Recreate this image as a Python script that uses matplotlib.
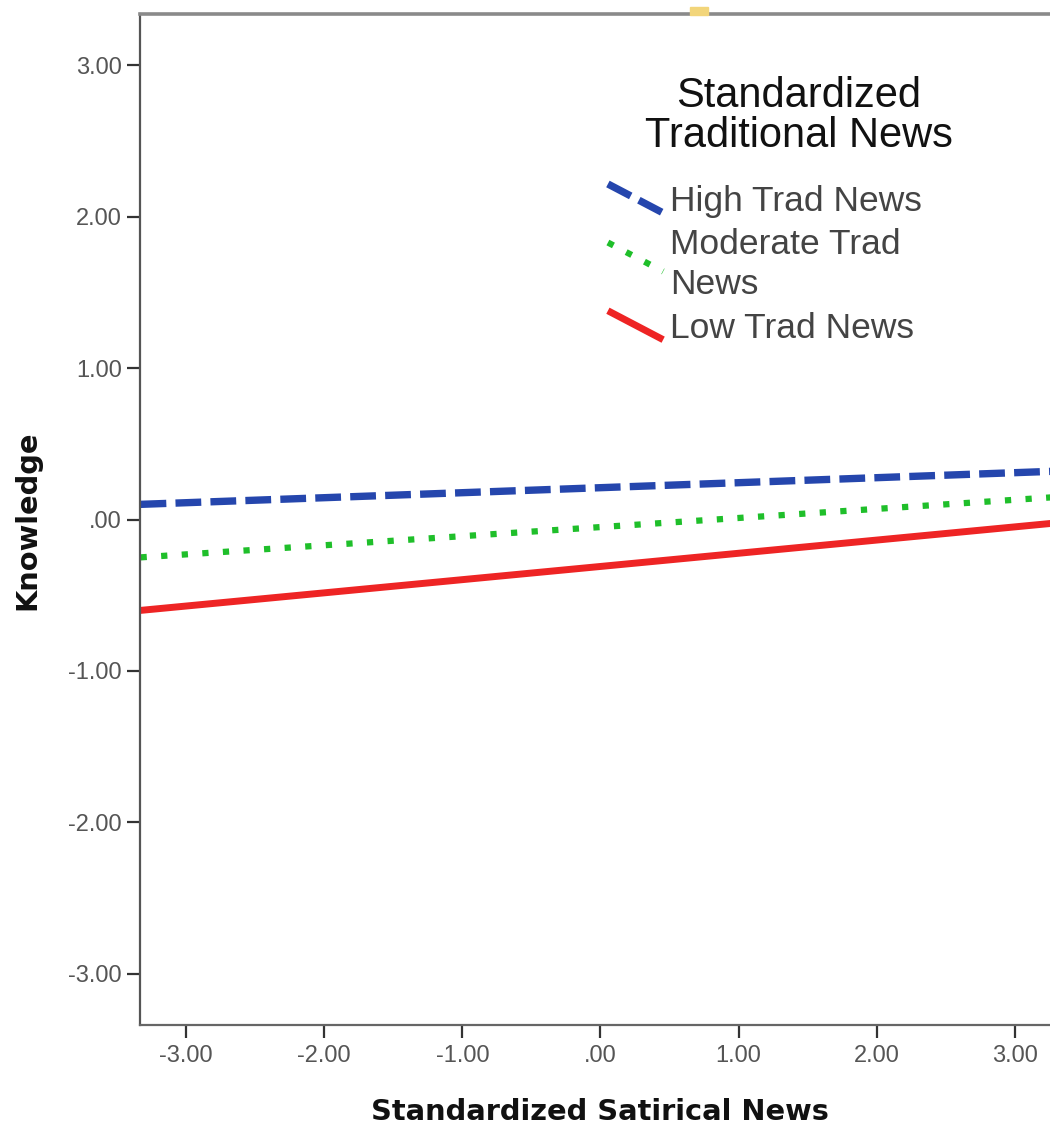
import numpy as np
import matplotlib.pyplot as plt
from matplotlib.lines import Line2D
from matplotlib.patches import Rectangle
from matplotlib.legend_handler import HandlerLine2D
from matplotlib.ticker import FuncFormatter

# simple slopes, endpoints
satirical = [-3.33, 3.33]
high_trad = [0.10, 0.32]
moderate_trad = [-0.25, 0.15]
low_trad = [-0.60, -0.02]

series_labels = ["High Trad News", "Moderate Trad\nNews", "Low Trad News"]
ticks = [-3, -2, -1, 0, 1, 2, 3]


class DiagonalHandler(HandlerLine2D):
    # SPSS draws legend keys as a short sloping segment
    def __init__(self, shift=0, **kw):
        super().__init__(**kw)
        self.shift = shift

    def create_artists(self, legend, orig_handle, xdescent, ydescent,
                       width, height, fontsize, trans):
        y0 = -ydescent + self.shift
        ln = Line2D([-xdescent, -xdescent + width],
                    [y0 + height + 1.5, y0 - 1.5])
        self.update_prop(ln, orig_handle, legend)
        ln.set_transform(trans)
        return [ln]


def fmt(v, pos):
    s = "%.2f" % v
    if s in ("0.00", "-0.00"):
        return ".00"
    return s


fig = plt.figure(figsize=(10.5, 11.27), dpi=100)
ax = fig.add_axes([140/1050, 102/1127, 1 - 140/1050 + 0.002, 1011/1127])

l1, = ax.plot(satirical, high_trad, color="#2546ad", lw=5.3, dashes=(3.5, 1.25),
              dash_capstyle="butt", solid_capstyle="butt")
l2, = ax.plot(satirical, moderate_trad, color="#1fbf2a", lw=4.5, dashes=(1, 2.3),
              dash_capstyle="butt")
l3, = ax.plot(satirical, low_trad, color="#ee2424", lw=5, solid_capstyle="butt")

ax.set_xlim(-3.334, 3.27)
ax.set_ylim(-3.337, 3.337)
ax.set_xticks(ticks)
ax.set_yticks(ticks)
ax.xaxis.set_major_formatter(FuncFormatter(fmt))
ax.yaxis.set_major_formatter(FuncFormatter(fmt))
ax.tick_params(length=9.5, width=1.6, color="#333333", labelsize=17,
               labelcolor="#555555")
ax.tick_params(axis="y", pad=3.5)
ax.tick_params(axis="x", pad=5)
for t in ax.get_xticklabels() + ax.get_yticklabels():
    t.set_family("Liberation Sans")

ax.spines["right"].set_visible(False)
ax.spines["top"].set_color("#8a8a8a")
ax.spines["top"].set_linewidth(2.6)
ax.spines["left"].set_color("#555555")
ax.spines["left"].set_linewidth(1.6)
ax.spines["bottom"].set_color("#666666")
ax.spines["bottom"].set_linewidth(1.6)

leg = ax.legend([l1, l2, l3], series_labels, loc="upper left",
                bbox_to_anchor=(0.513, 0.831), frameon=False,
                borderpad=0, borderaxespad=0, handlelength=1.56,
                handletextpad=0.2, labelspacing=0.3,
                handler_map={l1: DiagonalHandler(), l2: DiagonalHandler(shift=6),
                             l3: DiagonalHandler()},
                prop={"family": "Liberation Sans", "size": 25.5})
for t in leg.get_texts():
    t.set_color("#444444")
    t.set_linespacing(1.25)

ax.text(0.7225, 0.899, "Standardized\nTraditional News", transform=ax.transAxes,
        ha="center", va="center", fontsize=30, family="Liberation Sans",
        linespacing=1.0, color="#111111")

fig.text(600/1050, 1 - 1112/1127, "Standardized Satirical News", ha="center",
         va="center", fontsize=20.8, fontweight="bold", color="#111111")
fig.text(27/1050, 1 - 520/1127, "Knowledge", ha="center", va="center",
         rotation=90, fontsize=20.8, fontweight="bold", color="#111111")

# little yellow tab on top of the frame
fig.patches.append(Rectangle((690/1050, 1 - 15/1127), 18/1050, 8/1127,
                             transform=fig.transFigure, color="#f2d57a",
                             zorder=5))

fig.savefig("out.png", dpi=100)
